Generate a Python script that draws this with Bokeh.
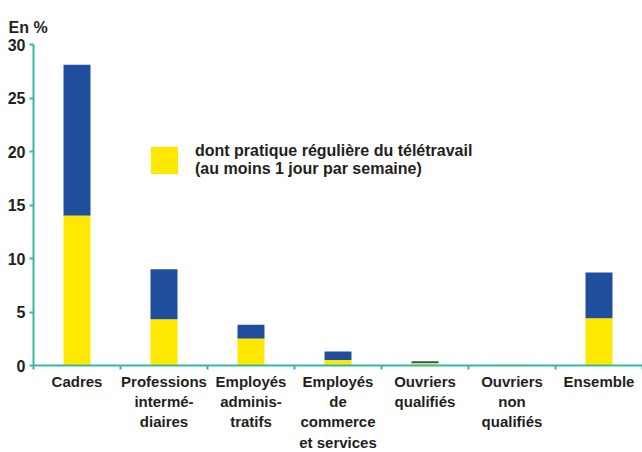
from bokeh.plotting import figure
from bokeh.models import Range1d, FixedTicker, Legend, LegendItem, ColumnDataSource
from bokeh.embed import file_html
from bokeh.resources import INLINE

categories = ["Cadres", "Professions\ninterm\u00e9-\ndiaires", "Employ\u00e9s\nadminis-\ntratifs",
              "Employ\u00e9s\nde\ncommerce\net services", "Ouvriers\nqualifi\u00e9s",
              "Ouvriers\nnon\nqualifi\u00e9s", "Ensemble"]
total = [28.1, 9.0, 3.8, 1.3, 0.4, 0.1, 8.7]
regular = [14.0, 4.3, 2.5, 0.5, 0.2, 0.1, 4.4]
yticks = [0, 5, 10, 15, 20, 25, 30]

BLUE = "#1F4F9C"
YELLOW = "#FFE800"
TEAL = "#33B9A0"
TXT = "#231F20"
FONT = "Liberation Sans"

xs = [i + 0.5 for i in range(len(categories))]
src = ColumnDataSource(dict(x=xs, total=total, regular=regular))

p = figure(frame_width=609, frame_height=321, output_backend="svg", toolbar_location=None,
           x_range=Range1d(0, len(categories)), y_range=Range1d(0, 30),
           min_border_left=33, min_border_right=0, min_border_top=44, min_border_bottom=87)
p.outline_line_color = None
p.xgrid.visible = False
p.ygrid.visible = False

p.vbar(x="x", bottom="regular", top="total", width=0.31, source=src, fill_color=BLUE, line_color=None)
yel = p.vbar(x="x", bottom=0, top="regular", width=0.31, source=src, fill_color=YELLOW, line_color=None)

# axes
p.xaxis.ticker = FixedTicker(ticks=xs, minor_ticks=list(range(len(categories) + 1)))
p.xaxis.major_label_overrides = {x: c for x, c in zip(xs, categories)}
p.xaxis.major_tick_out = 0
p.xaxis.major_tick_in = 0
p.xaxis.minor_tick_out = 4
p.xaxis.minor_tick_in = 0
p.xaxis.minor_tick_line_color = TEAL
p.xaxis.minor_tick_line_width = 2
p.xaxis.major_label_standoff = 3

p.yaxis.ticker = FixedTicker(ticks=yticks)
p.yaxis.major_tick_out = 4
p.yaxis.major_tick_in = 0
p.yaxis.minor_tick_line_color = None
p.yaxis.major_label_standoff = 4

for ax in (p.xaxis[0], p.yaxis[0]):
    ax.axis_line_color = TEAL
    ax.axis_line_width = 2
    ax.major_tick_line_color = TEAL
    ax.major_tick_line_width = 2
    ax.major_label_text_font = FONT
    ax.major_label_text_font_style = "bold"
    ax.major_label_text_font_size = "16px"
    ax.major_label_text_color = TXT
p.xaxis.major_label_text_font_size = "15px"

legend = Legend(items=[LegendItem(label="dont pratique r\u00e9guli\u00e8re du t\u00e9l\u00e9travail\n(au moins 1 jour par semaine)",
                                  renderers=[yel])],
                location=(114, 187), orientation="vertical",
                glyph_width=34, glyph_height=34, label_standoff=14,
                padding=0, margin=0, border_line_color=None, background_fill_alpha=0,
                label_text_font=FONT, label_text_font_style="bold", label_text_font_size="16px",
                label_text_color=TXT, label_height=34)
p.add_layout(legend, "center")

p.title.text = "En %"
p.title.align = "left"
p.title.offset = -25
p.title.standoff = 18
p.title.text_font = FONT
p.title.text_font_style = "bold"
p.title.text_font_size = "16px"
p.title.text_color = TXT

open("out.html", "w").write(file_html(p, INLINE))
